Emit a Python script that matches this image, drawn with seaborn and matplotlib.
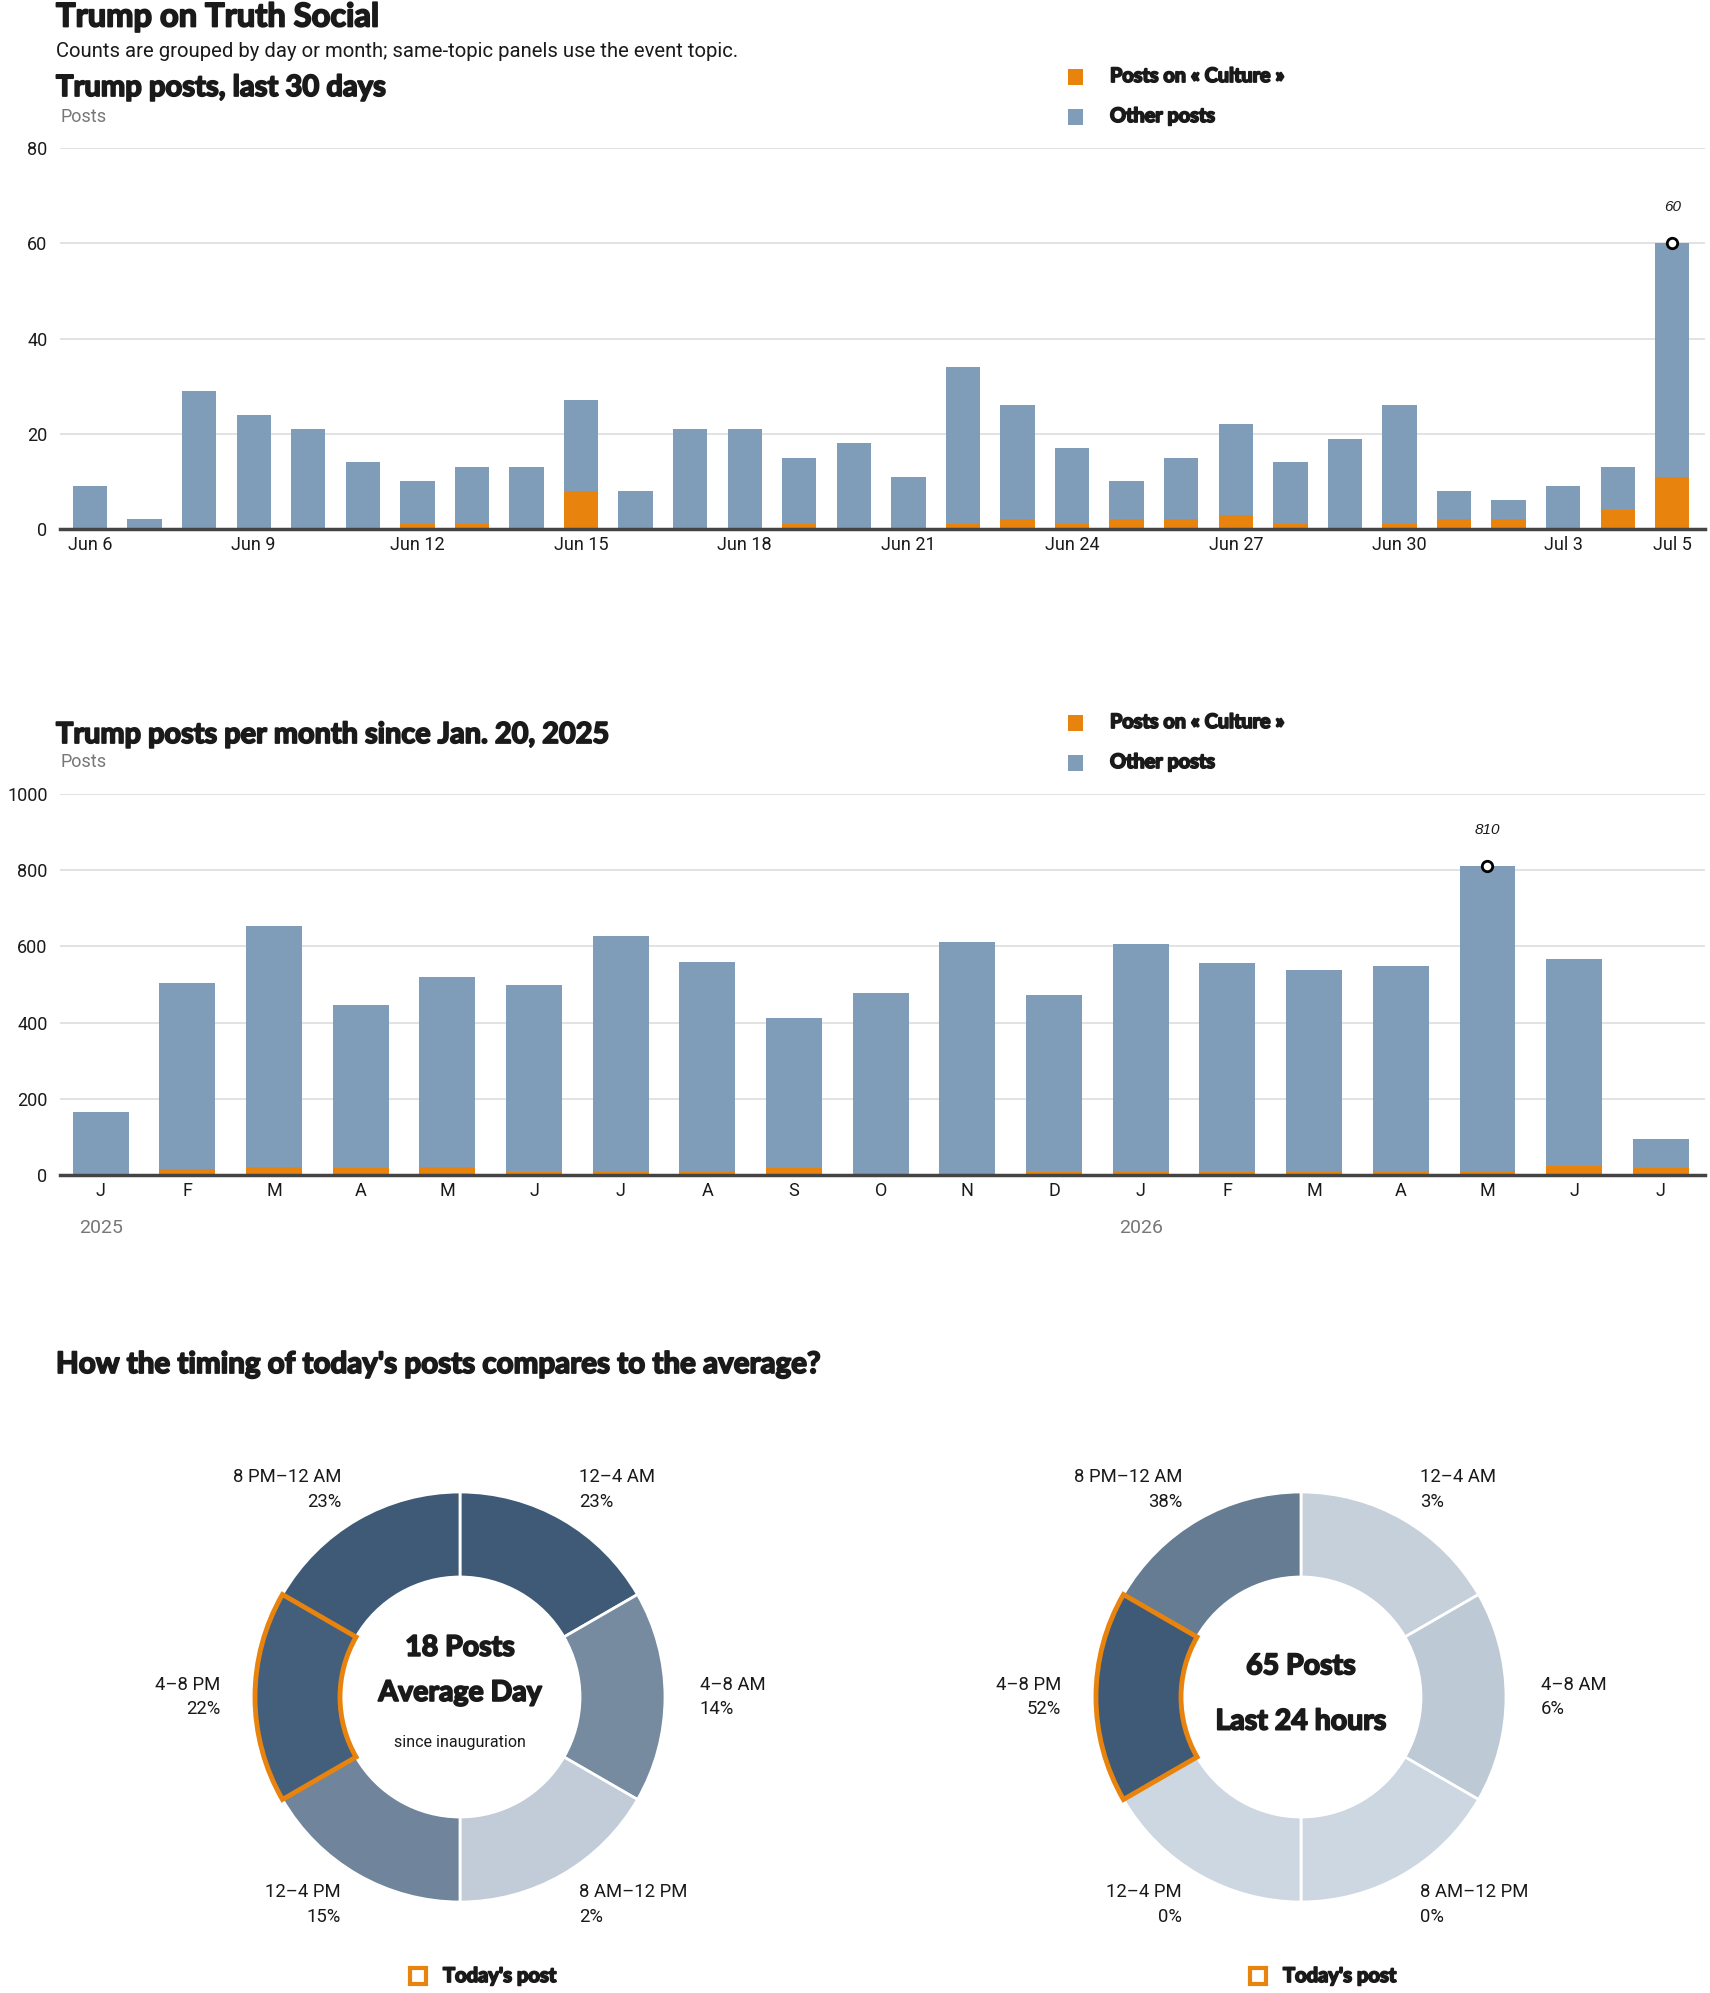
import numpy as np
import pandas as pd
import matplotlib
matplotlib.use("Agg")
import matplotlib.pyplot as plt
import matplotlib.colors as mcolors
import matplotlib.patheffects as pe
from matplotlib.patches import Rectangle, Wedge
import seaborn as sns

W, H = 1710, 1993

ORANGE = "#e8830e"
BLUE = "#7f9db9"
GRID = "#dddddd"
BASE = "#444444"
DARK = "#1a1a1a"
GREY = "#777777"

HEAVY = ["Lato", "DejaVu Sans"]
BODY = ["Roboto", "DejaVu Sans"]
NARROW = ["Liberation Sans Narrow", "Liberation Sans", "DejaVu Sans"]
FAT = [pe.withStroke(linewidth=1.3, foreground=DARK)]

# last 30 days
day_labels = ["Jun 6", "Jun 7", "Jun 8", "Jun 9", "Jun 10", "Jun 11", "Jun 12", "Jun 13",
              "Jun 14", "Jun 15", "Jun 16", "Jun 17", "Jun 18", "Jun 19", "Jun 20", "Jun 21",
              "Jun 22", "Jun 23", "Jun 24", "Jun 25", "Jun 26", "Jun 27", "Jun 28", "Jun 29",
              "Jun 30", "Jul 1", "Jul 2", "Jul 3", "Jul 4", "Jul 5"]
total_daily = [9, 2, 29, 24, 21, 14, 10, 13, 13, 27, 8, 21, 21, 15, 18, 11, 34, 26, 17, 10,
               15, 22, 14, 19, 26, 8, 6, 9, 13, 60]
culture_daily = [0, 0, 0, 0, 0, 0, 1, 1, 0, 8, 0, 0, 0, 1, 0, 0, 1, 2, 1, 2,
                 2, 3, 1, 0, 1, 2, 2, 0, 4, 11]
day_ticks = ["Jun 6", "Jun 9", "Jun 12", "Jun 15", "Jun 18", "Jun 21", "Jun 24", "Jun 27",
             "Jun 30", "Jul 3", "Jul 5"]

# per month since inauguration
month_keys = ["2025-01", "2025-02", "2025-03", "2025-04", "2025-05", "2025-06", "2025-07",
              "2025-08", "2025-09", "2025-10", "2025-11", "2025-12", "2026-01", "2026-02",
              "2026-03", "2026-04", "2026-05", "2026-06", "2026-07"]
month_letters = ["J", "F", "M", "A", "M", "J", "J", "A", "S", "O", "N", "D",
                 "J", "F", "M", "A", "M", "J", "J"]
total_monthly = [165, 504, 654, 447, 520, 499, 628, 559, 412, 477, 612, 473,
                 607, 556, 538, 549, 810, 567, 95]
culture_monthly = [0, 17, 21, 19, 21, 8, 11, 11, 19, 5, 4, 8,
                   11, 7, 11, 11, 11, 24, 19]
year_labels = {"2025-01": "2025", "2026-01": "2026"}

# timing donuts
slots = ["12–4 AM", "4–8 AM", "8 AM–12 PM", "12–4 PM", "4–8 PM", "8 PM–12 AM"]
avg_pct = [23, 14, 2, 15, 22, 23]
today_pct = [3, 6, 0, 0, 52, 38]
today_slot = "4–8 PM"


def px_axes(fig, left, top, width, height):
    return fig.add_axes([left / W, 1 - (top + height) / H, width / W, height / H])


def style_bar_axes(ax, ymax, step):
    ax.set_ylim(0, ymax)
    ax.set_yticks(np.arange(0, ymax + 1, step))
    ax.grid(axis="y", color=GRID, linewidth=1.2)
    ax.set_axisbelow(True)
    for s in ["top", "right", "left"]:
        ax.spines[s].set_visible(False)
    ax.spines["bottom"].set_color(BASE)
    ax.spines["bottom"].set_linewidth(2.5)
    ax.spines["bottom"].set_zorder(5)
    ax.tick_params(axis="both", length=0, labelsize=13, colors=DARK)
    ax.tick_params(axis="y", pad=9)
    ax.tick_params(axis="x", pad=5)
    ax.set_xlabel("")
    ax.set_ylabel("")
    for t in ax.get_xticklabels() + ax.get_yticklabels():
        t.set_fontfamily(BODY)


def stacked_bars(ax, cats, total, culture, width):
    df = pd.DataFrame({"cat": cats, "total": total, "culture": culture})
    sns.barplot(data=df, x="cat", y="total", color=BLUE, saturation=1, width=width,
                ax=ax, errorbar=None, zorder=2)
    sns.barplot(data=df, x="cat", y="culture", color=ORANGE, saturation=1, width=width,
                ax=ax, errorbar=None, zorder=3)
    for p in ax.patches:
        p.set_linewidth(0)
    return df


def mark_peak(ax, total, fmt):
    i = int(np.argmax(total))
    ax.plot([i], [total[i]], marker="o", ms=7.5, mfc="white", mec="black", mew=2, zorder=6,
            clip_on=False)
    ax.annotate(fmt(total[i]), (i, total[i]), xytext=(0, 26), textcoords="offset points",
                ha="center", va="center", fontsize=11, style="italic", family=NARROW,
                color=DARK)


sns.set_theme(style="white")
plt.rcParams["font.family"] = BODY

fig = plt.figure(figsize=(W / 100, H / 100), dpi=100)

# chart 1
ax1 = px_axes(fig, 60, 148, 1645, 381)
stacked_bars(ax1, day_labels, total_daily, culture_daily, 0.63)
ax1.set_xlim(-0.55, len(day_labels) - 0.4)
style_bar_axes(ax1, 80, 20)
ax1.set_xticks([day_labels.index(d) for d in day_ticks])
ax1.set_xticklabels(day_ticks, fontfamily=BODY)
mark_peak(ax1, total_daily, lambda v: f"{v}")

# chart 2
ax2 = px_axes(fig, 60, 794, 1645, 381)
stacked_bars(ax2, month_keys, total_monthly, culture_monthly, 0.645)
ax2.set_xlim(-0.47, len(month_keys) - 0.49)
style_bar_axes(ax2, 1000, 200)
ax2.set_xticks(range(len(month_keys)))
ax2.set_xticklabels(month_letters, fontfamily=BODY)
for key, yr in year_labels.items():
    ax2.annotate(yr, (month_keys.index(key), 0), xytext=(0, -38), textcoords="offset points",
                 ha="center", va="center", fontsize=14, color=GREY, family=BODY)
mark_peak(ax2, total_monthly, lambda v: f"{v}")

# donuts
light = np.array(mcolors.to_rgb("#cdd7e1"))
dark = np.array(mcolors.to_rgb("#3e5a76"))

label_pos = [(0.58, 1.01, "left"), (1.17, 0.0, "left"), (0.58, -1.01, "left"),
             (-0.58, -1.01, "right"), (-1.17, 0.0, "right"), (-0.58, 1.01, "right")]


def donut(cx, cy, pct, center_lines):
    R = 205
    ax = px_axes(fig, cx - 320, cy - 320, 640, 640)
    top = max(pct)
    cols = [light + (dark - light) * (p / top) for p in pct]
    ax.pie([1] * len(slots), colors=cols, startangle=90, counterclock=False, radius=1,
           wedgeprops=dict(width=1 - 120 / R, edgecolor="white", linewidth=2))
    lim = 320 / R
    ax.set_xlim(-lim, lim)
    ax.set_ylim(-lim, lim)
    ax.set_aspect("equal")
    ax.axis("off")
    k = slots.index(today_slot)
    theta2 = 90 - k * 60
    theta1 = theta2 - 60
    ax.add_patch(Wedge((0, 0), 1, theta1, theta2, width=1 - 120 / R, facecolor="none",
                       edgecolor=ORANGE, linewidth=3.5, zorder=5))
    for (x, y, ha), name, p in zip(label_pos, slots, pct):
        ax.text(x, y, f"{name}\n{p}%", ha=ha, va="center", fontsize=13.3, color=DARK,
                family=BODY, linespacing=1.5)
    for y, s, size, heavy in center_lines:
        if heavy:
            ax.text(0, y, s, ha="center", va="center", fontsize=size, fontweight="bold",
                    family=HEAVY, color=DARK, path_effects=FAT)
        else:
            ax.text(0, y, s, ha="center", va="center", fontsize=size, family=BODY,
                    color=DARK)


donut(460, 1697, avg_pct, [(0.24, "18 Posts", 20.5, True),
                           (0.02, "Average Day", 20.5, True),
                           (-0.22, "since inauguration", 11.5, False)])
donut(1301, 1697, today_pct, [(0.15, "65 Posts", 20.5, True),
                              (-0.12, "Last 24 hours", 20.5, True)])

# text overlay in pixel coordinates
ov = fig.add_axes([0, 0, 1, 1], facecolor="none")
ov.set_xlim(0, W)
ov.set_ylim(H, 0)
ov.axis("off")


def heading(x, y, s, size):
    ov.text(x, y, s, fontsize=size, fontweight="bold", family=HEAVY, color=DARK,
            va="center", path_effects=FAT)


heading(56, 17, "Trump on Truth Social", 23.5)
ov.text(56, 51, "Counts are grouped by day or month; same-topic panels use the event topic.",
        fontsize=14.6, family=BODY, color=DARK, va="center")
heading(56, 88, "Trump posts, last 30 days", 21)
ov.text(60, 117, "Posts", fontsize=13, family=BODY, color=GREY, va="center")
heading(56, 735, "Trump posts per month since Jan. 20, 2025", 20.8)
ov.text(60, 762, "Posts", fontsize=13, family=BODY, color=GREY, va="center")
heading(56, 1364, "How the timing of today's posts compares to the average?", 21.3)

for y0 in (77, 723):
    for dy, col, lab in [(0, ORANGE, "Posts on « Culture »"), (40, BLUE, "Other posts")]:
        ov.add_patch(Rectangle((1068, y0 + dy - 8), 15, 16, facecolor=col, edgecolor="none"))
        ov.text(1110, y0 + dy - 1, lab, fontsize=14.3, fontweight="bold", family=HEAVY,
                color=DARK, va="center", path_effects=FAT)

for sx, tx in [(410, 443), (1250, 1283)]:
    ov.add_patch(Rectangle((sx, 1968), 16, 16, facecolor="white", edgecolor=ORANGE,
                           linewidth=3))
    ov.text(tx, 1976, "Today's post", fontsize=14.5, fontweight="bold", family=HEAVY,
            color=DARK, va="center", path_effects=FAT)

fig.savefig("out.png", dpi=100, facecolor="white")
